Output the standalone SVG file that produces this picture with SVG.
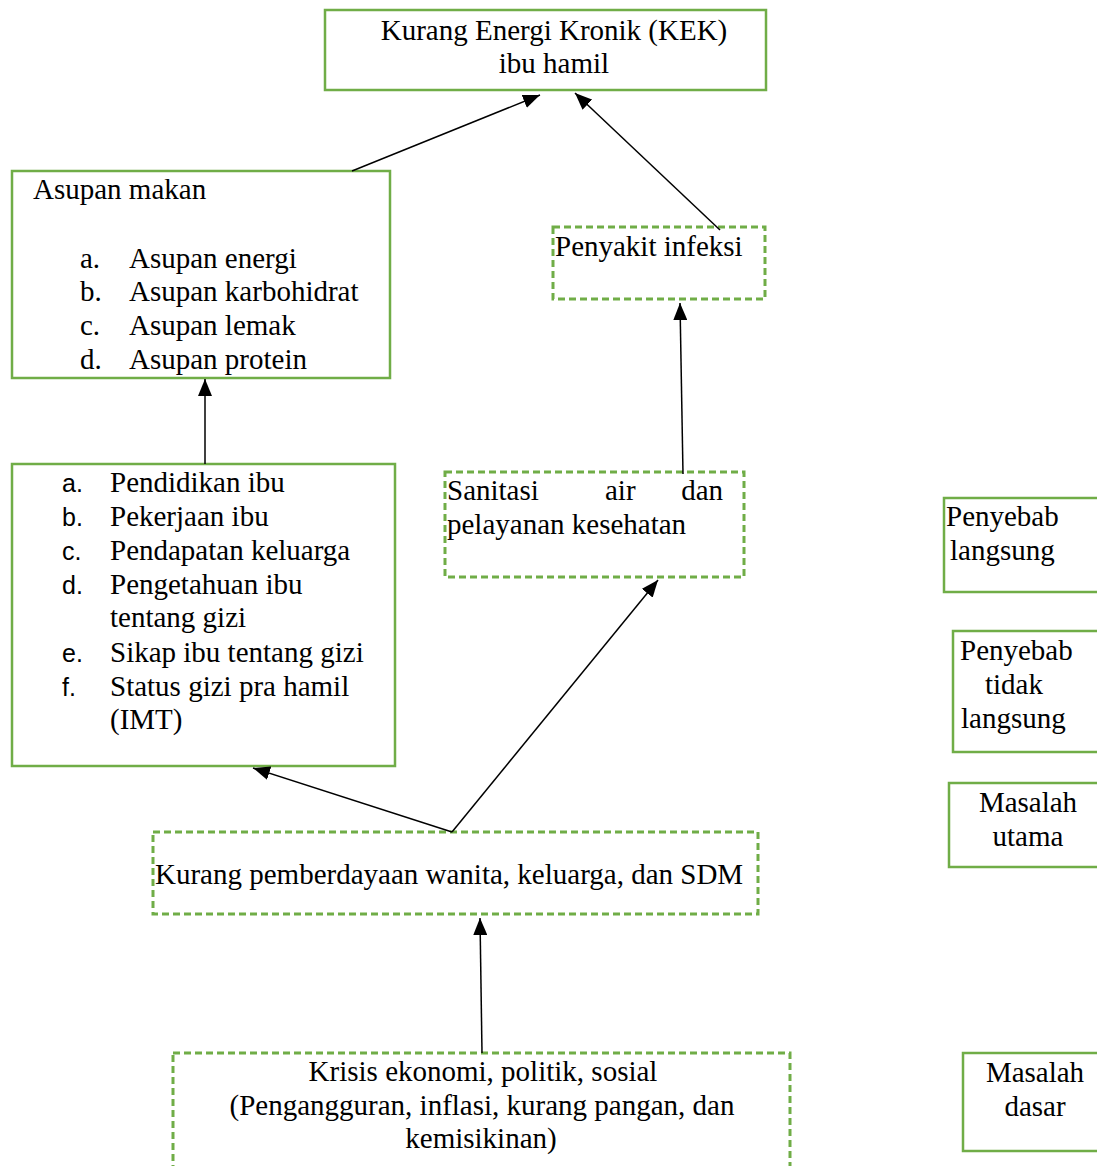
<svg xmlns="http://www.w3.org/2000/svg" width="1097" height="1166" viewBox="0 0 1097 1166">
<style>
.box{fill:#fff;stroke:#70AD47;stroke-width:2.5}
.dash{fill:#fff;stroke:#70AD47;stroke-width:3;stroke-dasharray:7 4}
text{font-family:"Liberation Serif","Times New Roman",serif;font-size:29px;fill:#000}
.c{text-anchor:middle}
.e{text-anchor:end}
.s{font-family:"Liberation Sans",Arial,sans-serif;font-size:25px}
.conn line{stroke:#000;stroke-width:1.5;marker-end:url(#ah)}
</style>
<defs>
<marker id="ah" markerUnits="userSpaceOnUse" markerWidth="18" markerHeight="14" refX="17" refY="7" orient="auto">
<path d="M0,0 L17,7 L0,14 z" fill="#000"/>
</marker>
</defs>
<rect width="1097" height="1166" fill="#fff"/>
<g id="kek">
<rect class="box" x="325" y="10" width="441" height="80"/>
<text class="c" x="554" y="40">Kurang Energi Kronik (KEK)</text>
<text class="c" x="554" y="73">ibu hamil</text>
</g>
<g id="asupan">
<rect class="box" x="12" y="171" width="378" height="207"/>
<text x="33" y="199">Asupan makan</text>
<text x="80" y="268">a.</text><text x="129" y="268">Asupan energi</text>
<text x="80" y="301">b.</text><text x="129" y="301">Asupan karbohidrat</text>
<text x="80" y="335">c.</text><text x="129" y="335">Asupan lemak</text>
<text x="80" y="369">d.</text><text x="129" y="369">Asupan protein</text>
</g>
<g id="infeksi">
<rect class="dash" x="553" y="227" width="212" height="72"/>
<text x="555" y="256">Penyakit infeksi</text>
</g>
<g id="faktor">
<rect class="box" x="12" y="464" width="383" height="302"/>
<text class="s" x="62" y="492">a.</text><text x="110" y="492">Pendidikan ibu</text>
<text class="s" x="62" y="526">b.</text><text x="110" y="526">Pekerjaan ibu</text>
<text class="s" x="62" y="560">c.</text><text x="110" y="560">Pendapatan keluarga</text>
<text class="s" x="62" y="594">d.</text><text x="110" y="594">Pengetahuan ibu</text>
<text x="110" y="627">tentang gizi</text>
<text class="s" x="62" y="662">e.</text><text x="110" y="662">Sikap ibu tentang gizi</text>
<text class="s" x="62" y="696">f.</text><text x="110" y="696">Status gizi pra hamil</text>
<text x="110" y="729">(IMT)</text>
</g>
<g id="sanitasi">
<rect class="dash" x="445" y="472" width="299" height="105"/>
<text x="447" y="500">Sanitasi</text>
<text x="605" y="500">air</text>
<text class="e" x="723" y="500">dan</text>
<text x="447" y="534">pelayanan kesehatan</text>
</g>
<g id="pemberdayaan">
<rect class="dash" x="153" y="832" width="605" height="82"/>
<text x="155" y="884">Kurang pemberdayaan wanita, keluarga, dan SDM</text>
</g>
<g id="krisis">
<rect class="dash" x="173" y="1053" width="617" height="130"/>
<text class="c" x="483" y="1081">Krisis ekonomi, politik, sosial</text>
<text class="c" x="482" y="1115">(Pengangguran, inflasi, kurang pangan, dan</text>
<text class="c" x="481" y="1148">kemisikinan)</text>
</g>
<g id="legend-langsung">
<rect class="box" x="944" y="498" width="160" height="94"/>
<text x="946" y="526">Penyebab</text>
<text x="950" y="560">langsung</text>
</g>
<g id="legend-tidak-langsung">
<rect class="box" x="953" y="631" width="150" height="121"/>
<text x="960" y="660">Penyebab</text>
<text class="c" x="1014" y="694">tidak</text>
<text x="961" y="728">langsung</text>
</g>
<g id="legend-utama">
<rect class="box" x="949" y="783" width="155" height="84"/>
<text class="c" x="1028" y="812">Masalah</text>
<text class="c" x="1028" y="846">utama</text>
</g>
<g id="legend-dasar">
<rect class="box" x="963" y="1053" width="140" height="98"/>
<text class="c" x="1035" y="1082">Masalah</text>
<text class="c" x="1035" y="1116">dasar</text>
</g>
<g class="conn" id="connectors">
<line x1="352" y1="171" x2="540" y2="95"/>
<line x1="720" y1="230" x2="575" y2="93"/>
<line x1="205" y1="464" x2="205" y2="379"/>
<line x1="683" y1="474" x2="680" y2="303"/>
<line x1="452" y1="832" x2="658" y2="580"/>
<line x1="452" y1="832" x2="253" y2="768"/>
<line x1="482" y1="1053" x2="480" y2="918"/>
</g>
</svg>
